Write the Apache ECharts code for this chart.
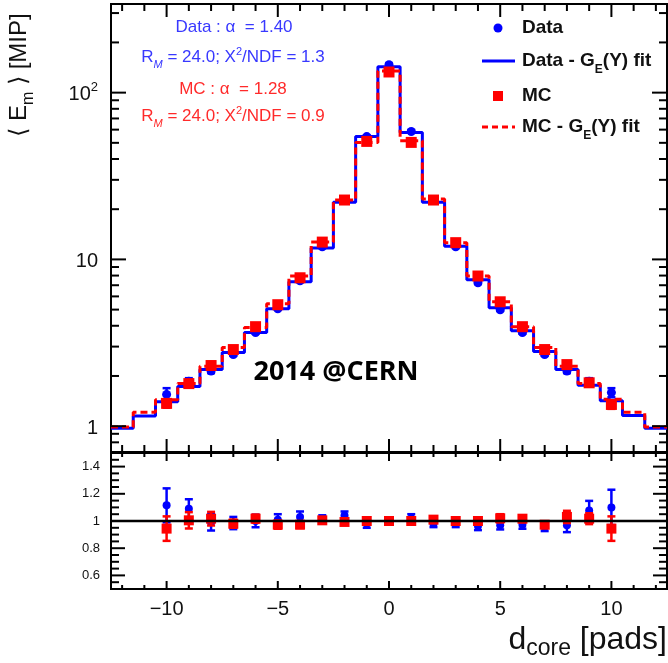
<!DOCTYPE html>
<html><head><meta charset="utf-8">
<script src="https://cdn.jsdelivr.net/npm/echarts@6/dist/echarts.min.js"></script>
<style>html,body{margin:0;padding:0;background:#fff}#c{width:668px;height:663px}</style>
</head><body><div id="c"></div>
<script>
// ---------- data ----------
const fitBins = [-12,-11,-10,-9,-8,-7,-6,-5,-4,-3,-2,-1,0,1,2,3,4,5,6,7,8,9,10,11,12];
const dataFit = [0.97,1.15,1.40,1.73,2.19,2.77,3.64,5.06,7.34,11.7,22.0,54.5,143,57.6,22.0,12.0,7.55,5.13,3.74,2.80,2.19,1.76,1.42,1.16,0.97];
const mcFit   = [0.99,1.21,1.44,1.80,2.29,2.96,3.90,5.42,7.95,12.7,22.7,50.3,135,51.5,23.0,12.6,7.95,5.57,3.95,2.96,2.29,1.80,1.45,1.21,0.99];

const ptBins = [-10,-9,-8,-7,-6,-5,-4,-3,-2,-1,0,1,2,3,4,5,6,7,8,9,10];
const dataPts = [1.55,1.86,2.14,2.69,3.64,5.06,7.44,11.9,22.7,54.5,147,58.5,22.7,11.9,7.24,4.99,3.64,2.69,2.14,1.86,1.59];
const dataErr = [0.14,0.08,0.06,0.05,0.06,0.08,0.12,0.2,0.4,1.0,2.5,1.0,0.4,0.2,0.12,0.08,0.06,0.05,0.06,0.08,0.10];
const mcPts   = [1.37,1.80,2.31,2.88,3.95,5.35,7.76,12.7,22.7,51.0,133,50.3,22.7,12.6,7.95,5.57,3.95,2.88,2.34,1.82,1.35];
const mcErr   = [0.08,0.06,0.05,0.05,0.06,0.08,0.1,0.15,0.3,0.8,2.0,0.8,0.3,0.15,0.1,0.08,0.06,0.05,0.05,0.06,0.08];

const dataRatio    = [1.115,1.09,0.99,0.985,1.0,1.01,1.03,1.012,1.04,0.98,1.0,1.02,0.98,0.99,0.963,0.968,0.973,0.956,0.968,1.078,1.10];
const dataRatioErr = [0.125,0.07,0.06,0.045,0.046,0.04,0.04,0.03,0.03,0.03,0.02,0.03,0.025,0.035,0.03,0.03,0.03,0.03,0.05,0.07,0.13];
const mcRatio      = [0.944,1.005,1.017,0.98,1.017,0.973,0.973,1.005,0.993,1.0,1.0,1.0,1.01,1.0,1.0,1.02,1.017,0.973,1.03,1.017,0.944];
const mcRatioErr   = [0.09,0.06,0.05,0.03,0.03,0.03,0.025,0.02,0.02,0.02,0.015,0.02,0.02,0.02,0.02,0.03,0.025,0.025,0.045,0.04,0.09];

// axis ranges and ticks
const xRange = [-12.5, 12.5];
const yTopRange = [0.7, 340];
const yRatioRange = [0.5, 1.5];
const xMajorTicks = [-10,-5,0,5,10];
const xMinorTicks = [-12,-11,-9,-8,-7,-6,-4,-3,-2,-1,1,2,3,4,6,7,8,9,11,12];
const yTopMajorTicks = [1,10,100];
const yTopMinorTicks = [0.8,0.9,2,3,4,5,6,7,8,9,20,30,40,50,60,70,80,90,200,300];
const yRatioMajorTicks = [0.6,0.8,1.0,1.2,1.4];
const yRatioMinorTicks = [0.55,0.65,0.7,0.75,0.85,0.9,0.95,1.05,1.1,1.15,1.25,1.3,1.35,1.45];
const xTickLabels = {'-10':'\u221210','-5':'\u22125','0':'0','5':'5','10':'10'};

const BLUE = '#0000ff', RED = '#ff0000';

// ---------- helpers ----------
function stepData(bins, vals) {
  const out = [];
  bins.forEach((c, i) => { out.push([c - 0.5, vals[i]]); out.push([c + 0.5, vals[i]]); });
  return out;
}
function tickSeries(gi, yr, yMaj, yMin, xMajL, xMinL, yMajL, yMinL) {
  return {
    type: 'custom', xAxisIndex: gi, yAxisIndex: gi, silent: true, z: 20,
    data: [[0, yr[0]]],
    renderItem(params, api) {
      const ch = [];
      const ln = (x1, y1, x2, y2) => ch.push({type: 'line', shape: {x1, y1, x2, y2}, style: {stroke: '#000', lineWidth: 2}});
      const xt = (arr, L) => arr.forEach(x => {
        const b = api.coord([x, yr[0]]), t = api.coord([x, yr[1]]);
        ln(b[0], b[1], b[0], b[1] - L); ln(t[0], t[1], t[0], t[1] + L);
      });
      const yt = (arr, L) => arr.forEach(y => {
        const l = api.coord([xRange[0], y]), r = api.coord([xRange[1], y]);
        ln(l[0], l[1], l[0] + L, l[1]); ln(r[0], r[1], r[0] - L, r[1]);
      });
      xt(xMajorTicks, xMajL); xt(xMinorTicks, xMinL); yt(yMaj, yMajL); yt(yMin, yMinL);
      return {type: 'group', children: ch};
    }
  };
}
function errSeries(gi, xs, ys, es, color, z) {
  return {
    type: 'custom', xAxisIndex: gi, yAxisIndex: gi, silent: true, z,
    data: xs.map((x, i) => [x, ys[i], ys[i] - es[i], ys[i] + es[i]]),
    encode: {x: 0, y: 1},
    renderItem(params, api) {
      const x = api.value(0);
      const lo = api.coord([x, api.value(2)]), hi = api.coord([x, api.value(3)]);
      const w = 4, st = {stroke: color, lineWidth: 2.5};
      return {type: 'group', children: [
        {type: 'line', shape: {x1: lo[0], y1: lo[1], x2: hi[0], y2: hi[1]}, style: st},
        {type: 'line', shape: {x1: lo[0] - w, y1: lo[1], x2: lo[0] + w, y2: lo[1]}, style: st},
        {type: 'line', shape: {x1: hi[0] - w, y1: hi[1], x2: hi[0] + w, y2: hi[1]}, style: st}
      ]};
    }
  };
}
const zip = (xs, ys) => xs.map((x, i) => [x, ys[i]]);

const FONT = '"Liberation Sans", Arial, Helvetica, sans-serif';
const close = (a, b) => Math.abs(a - b) < 1e-6 * Math.max(1, Math.abs(b));

// ---------- chart ----------
const chart = echarts.init(document.getElementById('c'), null, {renderer: 'canvas'});
const option = {
  animation: false,
  backgroundColor: '#fff',
  textStyle: {fontFamily: FONT},
  grid: [
    {left: 111, top: 4, width: 556, height: 448, show: true, borderColor: '#000', borderWidth: 2, backgroundColor: 'transparent'},
    {left: 111, top: 453, width: 556, height: 136, show: true, borderColor: '#000', borderWidth: 2, backgroundColor: 'transparent'}
  ],
  xAxis: [
    {gridIndex: 0, type: 'value', min: xRange[0], max: xRange[1], axisLine: {show: false}, axisTick: {show: false}, axisLabel: {show: false}, splitLine: {show: false}},
    {gridIndex: 1, type: 'value', min: xRange[0], max: xRange[1], axisLine: {show: false}, axisTick: {show: false}, splitLine: {show: false},
     axisLabel: {showMinLabel: false, showMaxLabel: false, fontSize: 20, color: '#111', margin: 10, fontFamily: FONT,
       formatter: v => { const k = String(Math.round(v)); return close(v, Math.round(v)) && xTickLabels[k] !== undefined ? xTickLabels[k] : ''; }}}
  ],
  yAxis: [
    {gridIndex: 0, type: 'log', logBase: 10, min: yTopRange[0], max: yTopRange[1], axisLine: {show: false}, axisTick: {show: false}, splitLine: {show: false},
     axisLabel: {showMinLabel: false, showMaxLabel: false, fontSize: 20, color: '#111', margin: 13, fontFamily: FONT,
       formatter: v => close(v, 1) ? '{n|1}' : close(v, 10) ? '{n|10}' : close(v, 100) ? '{n|10}{s|2}' : '',
       rich: {n: {fontSize: 20, lineHeight: 24, verticalAlign: 'bottom', fontFamily: FONT, color: '#111'},
              s: {fontSize: 13, lineHeight: 14, verticalAlign: 'top', fontFamily: FONT, color: '#111'}}}},
    {gridIndex: 1, type: 'value', min: yRatioRange[0], max: yRatioRange[1], axisLine: {show: false}, axisTick: {show: false}, splitLine: {show: false},
     axisLabel: {showMinLabel: false, showMaxLabel: false, fontSize: 13, color: '#111', margin: 11, fontFamily: FONT,
       formatter: v => close(v, 1) ? '1' : (Math.round(v * 10) / 10).toFixed(1)}}
  ],
  series: [
    {type: 'line', xAxisIndex: 0, yAxisIndex: 0, data: stepData(fitBins, dataFit), symbol: 'none', z: 2,
     lineStyle: {color: BLUE, width: 3}},
    {type: 'line', xAxisIndex: 0, yAxisIndex: 0, data: stepData(fitBins, mcFit), symbol: 'none', z: 3,
     lineStyle: {color: RED, width: 3, type: [7, 4]}},
    errSeries(0, ptBins, dataPts, dataErr, BLUE, 4),
    {type: 'scatter', xAxisIndex: 0, yAxisIndex: 0, data: zip(ptBins, dataPts), symbol: 'circle', symbolSize: 9, z: 5,
     itemStyle: {color: BLUE, opacity: 1}},
    errSeries(0, ptBins, mcPts, mcErr, RED, 6),
    {type: 'scatter', xAxisIndex: 0, yAxisIndex: 0, data: zip(ptBins, mcPts), symbol: 'rect', symbolSize: 11, z: 7,
     itemStyle: {color: RED, opacity: 1}},

    errSeries(1, ptBins, dataRatio, dataRatioErr, BLUE, 4),
    {type: 'scatter', xAxisIndex: 1, yAxisIndex: 1, data: zip(ptBins, dataRatio), symbol: 'circle', symbolSize: 8, z: 5,
     itemStyle: {color: BLUE, opacity: 1}},
    errSeries(1, ptBins, mcRatio, mcRatioErr, RED, 6),
    {type: 'scatter', xAxisIndex: 1, yAxisIndex: 1, data: zip(ptBins, mcRatio), symbol: 'rect', symbolSize: 10, z: 7,
     itemStyle: {color: RED, opacity: 1}},
    {type: 'line', xAxisIndex: 1, yAxisIndex: 1, data: [[xRange[0], 1], [xRange[1], 1]], symbol: 'none', z: 9,
     lineStyle: {color: '#000', width: 2.5}},

    tickSeries(0, yTopRange, yTopMajorTicks, yTopMinorTicks, 13, 7, 15, 8),
    tickSeries(1, yRatioRange, yRatioMajorTicks, yRatioMinorTicks, 8, 4, 14, 8)
  ],
  graphic: (function () {
    const ann = (txt, x, y, color) => ({
      type: 'text', x, y, z: 50,
      style: {text: txt, align: 'center', verticalAlign: 'middle', fill: color,
        rich: {n: {fontSize: 17, lineHeight: 20, verticalAlign: 'middle', fontFamily: FONT, fill: color},
               sub: {fontSize: 11, lineHeight: 12, verticalAlign: 'bottom', fontStyle: 'italic', fontFamily: FONT, fill: color, padding: [0, 0, -3, 0]},
               sup: {fontSize: 11, lineHeight: 12, verticalAlign: 'top', fontFamily: FONT, fill: color, padding: [-1, 0, 0, 0]}}}
    });
    const legRich = {n: {fontSize: 19, lineHeight: 22, fontWeight: 'bold', fontFamily: FONT, fill: '#111', verticalAlign: 'middle'},
                     s: {fontSize: 12, lineHeight: 12, fontWeight: 'bold', fontFamily: FONT, fill: '#111', verticalAlign: 'bottom', padding: [0, 0, -4, 0]}};
    const legText = (txt, y) => ({type: 'text', x: 522, y, z: 50,
      style: {text: txt, align: 'left', verticalAlign: 'middle', rich: legRich}});
    return [
      ann('{n|Data : \u03b1  = 1.40}', 234, 27, '#3838ff'),
      ann('{n|R}{sub|M}{n| = 24.0; X}{sup|2}{n|/NDF = 1.3}', 233, 57, '#3838ff'),
      ann('{n|MC : \u03b1  = 1.28}', 233, 89, '#ff2a2a'),
      ann('{n|R}{sub|M}{n| = 24.0; X}{sup|2}{n|/NDF = 0.9}', 233, 116, '#ff2a2a'),

      {type: 'circle', shape: {cx: 498, cy: 28, r: 4.5}, style: {fill: BLUE}, z: 50},
      legText('{n|Data}', 28),
      {type: 'line', shape: {x1: 482, y1: 61, x2: 515, y2: 61}, style: {stroke: BLUE, lineWidth: 3}, z: 50},
      legText('{n|Data - G}{s|E}{n|(Y) fit}', 61),
      {type: 'rect', shape: {x: 493, y: 91, width: 10, height: 10}, style: {fill: RED}, z: 50},
      legText('{n|MC}', 96),
      {type: 'line', shape: {x1: 482, y1: 127, x2: 515, y2: 127}, style: {stroke: RED, lineWidth: 3, lineDash: [6, 4]}, z: 50},
      legText('{n|MC - G}{s|E}{n|(Y) fit}', 127),

      {type: 'text', x: 336, y: 372, z: 50,
       style: {text: '2014 @CERN', align: 'center', verticalAlign: 'middle', fill: '#000',
         font: 'bold 27px "Open Sans", "Liberation Sans", sans-serif'}},

      {type: 'text', x: 19, y: 75, rotation: Math.PI / 2, z: 50,
       style: {text: '{n|\u27e8 E}{s|m}{n| \u27e9 [MIP]}', align: 'center', verticalAlign: 'middle',
         rich: {n: {fontSize: 24, lineHeight: 28, fontFamily: FONT, fill: '#111', verticalAlign: 'middle'},
                s: {fontSize: 16, lineHeight: 16, fontFamily: FONT, fill: '#111', verticalAlign: 'bottom', padding: [0, 0, -4, 0]}}}},

      {type: 'text', x: 667, y: 640, z: 50,
       style: {text: '{n|d}{s|core}{n| [pads]}', align: 'right', verticalAlign: 'middle',
         rich: {n: {fontSize: 32, lineHeight: 36, fontFamily: FONT, fill: '#111', verticalAlign: 'middle'},
                s: {fontSize: 23, lineHeight: 26, fontFamily: FONT, fill: '#111', verticalAlign: 'bottom', padding: [0, 0, -2, 0]}}}}
    ];
  })()
};
chart.setOption(option);
</script>
</body></html>
